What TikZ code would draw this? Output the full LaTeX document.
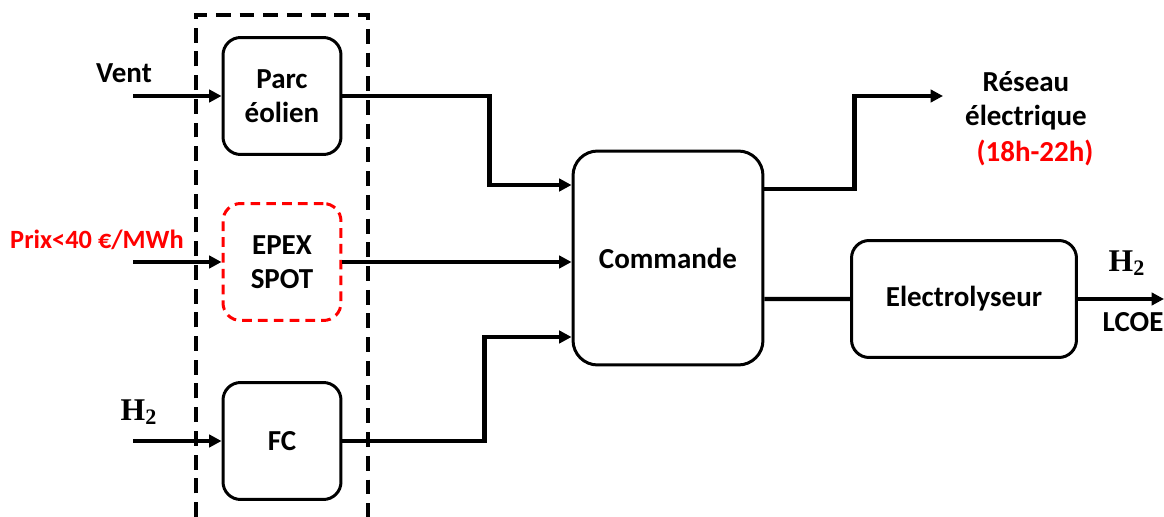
\documentclass[tikz,border=0pt]{standalone}
\usepackage{fontspec}
\setmainfont{Carlito}
\newfontfamily\chemfont{Liberation Serif}
\usepackage{xcolor}
\usepackage{tikz}
\usetikzlibrary{arrows.meta}
\definecolor{ERed}{HTML}{FF0000}
\newcommand{\hydro}{{\chemfont\fontsize{18}{20}\selectfont H\textsubscript{2}}}

\begin{document}
\begin{tikzpicture}[x=0.02cm, y=-0.02cm,
  every node/.style={align=center, font=\bfseries\fontsize{16.5}{19.5}\selectfont},
  blk/.style={draw=black, line width=1.7pt, rounded corners=10pt, fill=white,
              minimum width=2.36cm, minimum height=2.34cm},
  flow/.style={line width=2.3pt, -{Triangle[length=7pt,width=7pt]}},
  wire/.style={line width=2.3pt}]
\useasboundingbox (0,0) rectangle (1164,517);
% group of sources
\draw[line width=2.3pt, dash pattern=on 8.5pt off 5pt] (196,517) -- (196,15) -- (368,15) -- (368,517);
\node[blk] (parc) at (282,96) {Parc\\ éolien};
\node[blk, draw=ERed, dash pattern=on 5.5pt off 3.5pt] (epex) at (282,262) {EPEX\\ SPOT};
\node[blk] (fc) at (282,441) {FC};
\node[blk, rounded corners=14pt, minimum width=3.8cm, minimum height=4.28cm] (cmd) at (668,258) {Commande};
\node[blk, minimum width=4.5cm] (elec) at (964,299) {Electrolyseur};
% inputs
\node (vent) at (124,73) {Vent};
\node[text=ERed, font=\bfseries\fontsize{15}{18}\selectfont] (prix) at (97,240) {Prix<40 €/MWh};
\node (hin) at (139,412) {\hydro};
\coordinate (inV) at (133,96);
\coordinate (inP) at (133,262);
\coordinate (inH) at (133,441);
\draw[flow] (inV) -- (parc.west);
\draw[flow] (inP) -- (epex.west);
\draw[flow] (inH) -- (fc.west);
% to the controller
\draw[flow] (parc.east) -- ++(147,0) |- ([yshift=1.46cm]cmd.west);
\draw[flow] (epex.east) -- (cmd.west |- epex.east);
\draw[flow] (fc.east) -- ++(142,0) |- ([yshift=-1.58cm]cmd.west);
% outputs
\node (reseau) at (1026,101) {Réseau\\ électrique};
\node[text=ERed] (heures) at (1035,153) {(18h-22h)};
\coordinate (res) at (943,96);
\draw[flow] ([yshift=1.38cm]cmd.east) -- ++(90,0) |- (res);
\draw[wire] ([yshift=-0.82cm]cmd.east) -- (elec.west);
\node (hout) at (1127,263) {\hydro};
\node (lcoe) at (1133,322) {LCOE};
\coordinate (outH) at (1164,299);
\draw[flow] (elec.east) -- (outH);
\end{tikzpicture}
\end{document}
